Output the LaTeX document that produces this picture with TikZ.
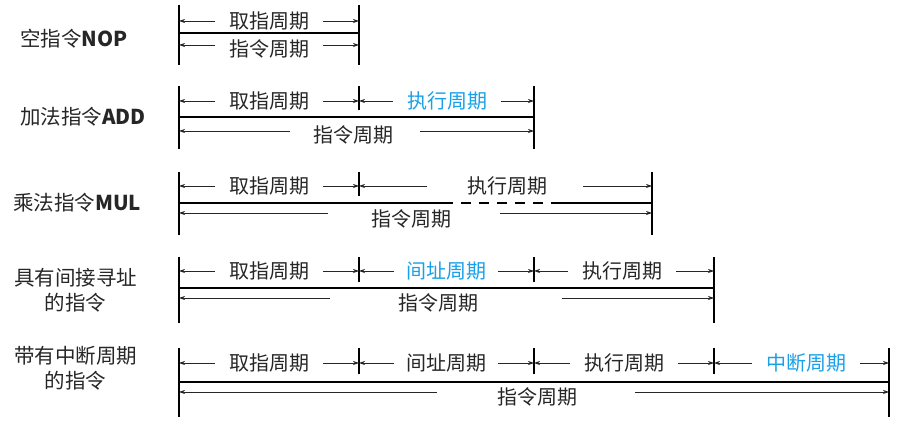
\documentclass[tikz,border=0pt]{standalone}
\usepackage{fontspec}
\setmainfont{Noto Sans CJK SC}
\usetikzlibrary{arrows.meta}
\definecolor{txtgray}{HTML}{262626}
\definecolor{cycblue}{HTML}{1AA0E8}

\begin{document}
\begin{tikzpicture}[x=1pt,y=-1pt,>={Stealth[length=6pt,width=4pt]},
  bar/.style={line width=2.6pt,black},
  tick/.style={line width=1.6pt,black},
  dim/.style={->,line width=0.7pt,txtgray},
  cyc/.style={inner xsep=14pt,inner ysep=0pt,font=\fontsize{20}{22}\selectfont,text=txtgray},
  ins/.style={anchor=west,align=center,inner sep=0pt,font=\fontsize{20.5}{25}\selectfont,text=txtgray}]
\useasboundingbox (0,0) rectangle (918,427);

% 空指令NOP
\node[ins] (nop) at (20,39) {空指令\textbf{NOP}};
\draw[bar] (179,5)--(179,65) (359,5)--(359,65) (179,33)--(359,33);
\coordinate (n0t) at (179,21); \coordinate (n1t) at (359,21);
\coordinate (n0b) at (179,45); \coordinate (n1b) at (359,45);
\node[cyc] (nopf) at (269,21) {取指周期};
\node[cyc] (nopi) at (269,49) {指令周期};
\draw[dim] (nopf.west)--(n0t);
\draw[dim] (nopf.east)--(n1t);
\draw[dim] (nopi.west|-n0b)--(n0b);
\draw[dim] (nopi.east|-n1b)--(n1b);

% 加法指令ADD
\node[ins] (add) at (20,117) {加法指令\textbf{ADD}};
\draw[bar] (179,86)--(179,149) (534,86)--(534,149) (179,117)--(534,117);
\draw[tick] (359,86)--(359,110);
\coordinate (a0t) at (179,101); \coordinate (a1t) at (359,101); \coordinate (a2t) at (534,101);
\coordinate (a0b) at (179,131); \coordinate (a2b) at (534,131);
\coordinate (alb) at (290,131); \coordinate (arb) at (420,131);
\node[cyc] (addf) at (269,101) {取指周期};
\node[cyc,text=cycblue] (adde) at (447,101) {执行周期};
\node[cyc] (addi) at (353,135) {指令周期};
\draw[dim] (addf.west)--(a0t);
\draw[dim] (addf.east)--(a1t);
\draw[dim] (adde.west)--(a1t);
\draw[dim] (adde.east)--(a2t);
\draw[dim] (alb)--(a0b);
\draw[dim] (arb)--(a2b);

% 乘法指令MUL
\node[ins] (mul) at (13,203) {乘法指令\textbf{MUL}};
\draw[bar] (179,172)--(179,235) (652,172)--(652,235) (179,203)--(443,203) (553,203)--(652,203);
\draw[bar,dash pattern=on 10pt off 8pt] (443,203)--(553,203);
\draw[tick] (359,172)--(359,196);
\coordinate (m0t) at (179,186); \coordinate (m1t) at (359,186); \coordinate (m2t) at (652,186);
\coordinate (mlt) at (427,186); \coordinate (mrt) at (583,186);
\coordinate (m0b) at (179,213); \coordinate (m2b) at (652,213);
\coordinate (mlb) at (328,213); \coordinate (mrb) at (500,213);
\node[cyc] (mulf) at (269,186) {取指周期};
\node[cyc] (mule) at (507,186) {执行周期};
\node[cyc] (muli) at (411,219) {指令周期};
\draw[dim] (mulf.west)--(m0t);
\draw[dim] (mulf.east)--(m1t);
\draw[dim] (mlt)--(m1t);
\draw[dim] (mrt)--(m2t);
\draw[dim] (mlb)--(m0b);
\draw[dim] (mrb)--(m2b);

% 具有间接寻址的指令
\node[ins] (ind) at (14,290) {具有间接寻址\\的指令};
\draw[bar] (179,257)--(179,323) (714,257)--(714,323) (179,288)--(714,288);
\draw[tick] (359,257)--(359,282) (534,257)--(534,282);
\coordinate (i0t) at (179,271); \coordinate (i1t) at (359,271);
\coordinate (i2t) at (534,271); \coordinate (i3t) at (714,271);
\coordinate (i0b) at (179,298); \coordinate (i3b) at (714,298);
\coordinate (ilb) at (330,298); \coordinate (irb) at (562,298);
\node[cyc] (indf) at (269,271) {取指周期};
\node[cyc,inner xsep=12pt,text=cycblue] (inda) at (446,271) {间址周期};
\node[cyc] (inde) at (622,271) {执行周期};
\node[cyc] (indi) at (438,303) {指令周期};
\draw[dim] (indf.west)--(i0t);
\draw[dim] (indf.east)--(i1t);
\draw[dim] (inda.west)--(i1t);
\draw[dim] (inda.east)--(i2t);
\draw[dim] (inde.west)--(i2t);
\draw[dim] (inde.east)--(i3t);
\draw[dim] (ilb)--(i0b);
\draw[dim] (irb)--(i3b);

% 带有中断周期的指令
\node[ins] (irq) at (14,368) {带有中断周期\\的指令};
\draw[bar] (179,348)--(179,417) (889,348)--(889,417) (179,382)--(889,382);
\draw[tick] (359,348)--(359,374) (534,348)--(534,374) (714,348)--(714,374);
\coordinate (q0t) at (179,363); \coordinate (q1t) at (359,363); \coordinate (q2t) at (534,363);
\coordinate (q3t) at (714,363); \coordinate (q4t) at (889,363);
\coordinate (q0b) at (179,392); \coordinate (q4b) at (889,392);
\coordinate (qlb) at (437,392); \coordinate (qrb) at (635,392);
\node[cyc] (irqf) at (269,363) {取指周期};
\node[cyc,inner xsep=12pt] (irqa) at (446,363) {间址周期};
\node[cyc] (irqe) at (624,363) {执行周期};
\node[cyc,text=cycblue] (irqi) at (806,363) {中断周期};
\node[cyc] (irqc) at (537,397) {指令周期};
\draw[dim] (irqf.west)--(q0t);
\draw[dim] (irqf.east)--(q1t);
\draw[dim] (irqa.west)--(q1t);
\draw[dim] (irqa.east)--(q2t);
\draw[dim] (irqe.west)--(q2t);
\draw[dim] (irqe.east)--(q3t);
\draw[dim] (irqi.west)--(q3t);
\draw[dim] (irqi.east)--(q4t);
\draw[dim] (qlb)--(q0b);
\draw[dim] (qrb)--(q4b);
\end{tikzpicture}
\end{document}
